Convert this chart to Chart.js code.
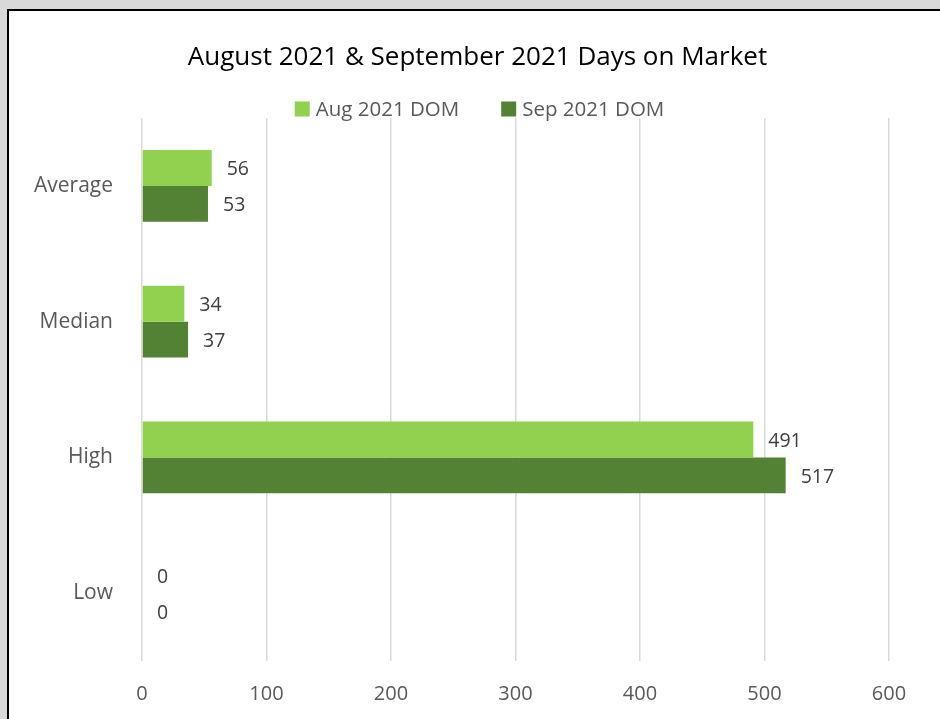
<!DOCTYPE html>
<html>
<head>
<meta charset="utf-8">
<script src="https://cdn.jsdelivr.net/npm/chart.js@4/dist/chart.umd.min.js"></script>
<style>
  html, body { margin: 0; padding: 0; background: #d9d9d9; overflow: hidden; }
  #box {
    position: absolute; left: 7px; top: 9px;
    width: 960px; height: 740px;
    border: 2px solid #000; background: #fff;
  }
  #wrap { position: absolute; left: 0; top: 0; width: 937px; height: 708px; }
</style>
</head>
<body>
<div id="box"><div id="wrap"><canvas id="grafico"></canvas></div></div>
<script>
const categorias = ['Average', 'Median', 'High', 'Low'];
const serieAgo = [56, 34, 491, 0];
const serieSep = [53, 37, 517, 0];
const nombresSeries = ['Aug 2021 DOM', 'Sep 2021 DOM'];
const ticksX = [0, 100, 200, 300, 400, 500, 600];
const titulo = 'August 2021 & September 2021 Days on Market';

const fuente = '"Open Sans", "Noto Sans", sans-serif';

// etiquetas de valor al final de cada barra
const etiquetasValor = {
    id: 'etiquetasValor',
    afterDatasetsDraw(chart) {
        const ctx = chart.ctx;
        ctx.save();
        ctx.font = '19.5px ' + fuente;
        ctx.fillStyle = '#404040';
        ctx.textAlign = 'left';
        ctx.textBaseline = 'middle';
        chart.data.datasets.forEach((ds, i) => {
            chart.getDatasetMeta(i).data.forEach((bar, j) => {
                ctx.fillText(ds.data[j], bar.x + 15, bar.y + 2);
            });
        });
        ctx.restore();
    }
};

// titulo y leyenda propios, centrados en todo el lienzo
const cabecera = {
    id: 'cabecera',
    afterDraw(chart) {
        const ctx = chart.ctx;
        ctx.save();
        ctx.textBaseline = 'middle';
        ctx.textAlign = 'center';
        ctx.font = '26px ' + fuente;
        ctx.fillStyle = '#000';
        ctx.fillText(titulo, chart.width / 2, 47);

        ctx.textAlign = 'left';
        ctx.font = '20.5px ' + fuente;
        const caja = 15, hueco = 6, entre = 42;
        const anchos = chart.data.datasets.map(ds => ctx.measureText(ds.label).width);
        let total = 0;
        anchos.forEach((w, i) => { total += caja + hueco + w + (i ? entre : 0); });
        let x = chart.width / 2 + 2 - total / 2;
        const y = chart.chartArea.top - 9;
        chart.data.datasets.forEach((ds, i) => {
            ctx.fillStyle = ds.backgroundColor;
            ctx.fillRect(x, y - caja / 2, caja, caja);
            ctx.fillStyle = '#595959';
            ctx.fillText(ds.label, x + caja + hueco, y + 1);
            x += caja + hueco + anchos[i] + entre;
        });
        ctx.restore();
    }
};

const ctx = document.getElementById('grafico').getContext('2d');
new Chart(ctx, {
    type: 'bar',
    data: {
        labels: categorias,
        datasets: [{
            label: nombresSeries[0],
            data: serieAgo,
            backgroundColor: '#92d050',
            categoryPercentage: 0.53,
            barPercentage: 1
        }, {
            label: nombresSeries[1],
            data: serieSep,
            backgroundColor: '#548235',
            categoryPercentage: 0.53,
            barPercentage: 1
        }]
    },
    options: {
        indexAxis: 'y',
        responsive: true,
        maintainAspectRatio: false,
        animation: false,
        layout: { padding: { left: 0, right: 57, top: 107, bottom: 0 } },
        plugins: {
            legend: { display: false },
            tooltip: { enabled: false },
            title: { display: false }
        },
        scales: {
            x: {
                min: 0,
                max: 600,
                afterBuildTicks(scale) {
                    scale.ticks = ticksX.map(v => ({ value: v }));
                },
                afterFit(scale) { scale.height = 58; },
                border: { display: false },
                grid: { color: '#d9d9d9', lineWidth: 1.5, drawTicks: false },
                ticks: {
                    color: '#595959',
                    padding: 21,
                    font: { family: fuente, size: 20 }
                }
            },
            y: {
                afterFit(scale) { scale.width = 133; },
                border: { display: false },
                grid: { display: false, drawTicks: false },
                ticks: {
                    color: '#595959',
                    padding: 29,
                    font: { family: fuente, size: 21 }
                }
            }
        }
    },
    plugins: [etiquetasValor, cabecera]
});
</script>
</body>
</html>
